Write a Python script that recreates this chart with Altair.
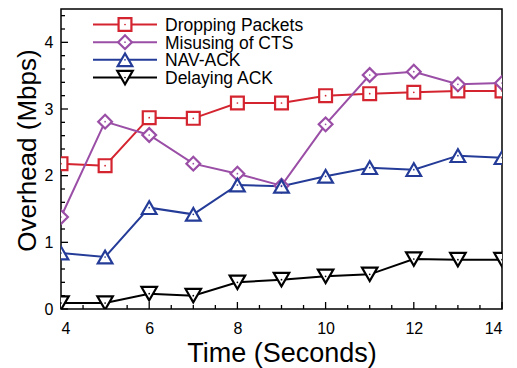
import altair as alt
import pandas as pd

time = [4, 5, 6, 7, 8, 9, 10, 11, 12, 13, 14]
dropping = [2.18, 2.15, 2.87, 2.86, 3.09, 3.09, 3.20, 3.23, 3.25, 3.27, 3.27]
misusing = [1.38, 2.81, 2.61, 2.18, 2.03, 1.85, 2.77, 3.51, 3.56, 3.37, 3.39]
navack = [0.84, 0.78, 1.52, 1.42, 1.86, 1.84, 1.99, 2.12, 2.09, 2.30, 2.27]
delaying = [0.09, 0.09, 0.23, 0.20, 0.40, 0.44, 0.49, 0.52, 0.75, 0.74, 0.74]

series_names = ["Dropping Packets", "Misusing of CTS", "NAV-ACK", "Delaying ACK"]
colors = ["#d42430", "#9a4ea6", "#243c98", "#000000"]
shapes = ["square", "diamond", "triangle-up", "triangle-down"]
marker_sizes = [165, 240, 280, 240]

x_major = [4, 6, 8, 10, 12, 14]
x_minor = [4.5, 5, 5.5, 6.5, 7, 7.5, 8.5, 9, 9.5, 10.5, 11, 11.5, 12.5, 13, 13.5]
y_major = [0, 1, 2, 3, 4]
y_minor = [0.2, 0.4, 0.6, 0.8, 1.2, 1.4, 1.6, 1.8, 2.2, 2.4, 2.6, 2.8,
           3.2, 3.4, 3.6, 3.8, 4.2, 4.4]

W, H = 441, 300
FONT = "Liberation Sans"

rows = []
for name, vals in zip(series_names, [dropping, misusing, navack, delaying]):
    for t, v in zip(time, vals):
        rows.append({"time": t, "value": v, "series": name})
df = pd.DataFrame(rows)
leg_df = pd.DataFrame({"series": series_names})

xs = alt.Scale(domain=[4, 14], nice=False)
ys = alt.Scale(domain=[0, 4.5], nice=False)
cs = alt.Scale(domain=series_names, range=colors)
ss = alt.Scale(domain=series_names, range=shapes)
zs = alt.Scale(domain=series_names, range=marker_sizes)

X = alt.X("time:Q", scale=xs,
          axis=alt.Axis(values=x_major, format="d", tickSize=0, labelPadding=11,
                        title="Time (Seconds)", titlePadding=4, titleFontSize=27,
                        grid=False, domain=False))
Y = alt.Y("value:Q", scale=ys,
          axis=alt.Axis(values=y_major, format="d", tickSize=0, labelPadding=8,
                        title="Overhead (Mbps)", titlePadding=4, titleFontSize=26,
                        titleY=141, grid=False, domain=False))
COLOR = alt.Color("series:N", scale=cs, legend=None)
SHAPE = alt.Shape("series:N", scale=ss, legend=None)
SIZE = alt.Size("series:N", scale=zs, legend=None)

base = alt.Chart(df)

lines = base.mark_line(strokeWidth=2, clip=True).encode(
    x=X, y=Y, color=COLOR, detail="series:N")

points = base.mark_point(filled=False, fill="white", strokeWidth=2.2,
                         opacity=1, clip=True).encode(
    x=X, y=Y, color=COLOR, shape=SHAPE, size=SIZE)

dots = base.mark_circle(size=3, opacity=1, clip=True).encode(x=X, y=Y, color=COLOR)

# legend (inside, top-left), rows placed by an ordinal point scale
LY = alt.Y("series:N", scale=alt.Scale(type="point", domain=series_names,
                                       range=[15.5, 68.5], padding=0), axis=None)
lbase = alt.Chart(leg_df)
leg_lines = lbase.mark_rule(strokeWidth=2).encode(
    x=alt.value(32), x2=alt.value(96), y=LY, color=COLOR)
leg_points = lbase.mark_point(filled=False, fill="white", strokeWidth=2.2,
                              opacity=1).encode(
    x=alt.value(64), y=LY, color=COLOR, shape=SHAPE, size=SIZE)
leg_dots = lbase.mark_circle(size=3, opacity=1).encode(x=alt.value(64), y=LY, color=COLOR)
leg_text = lbase.mark_text(align="left", baseline="alphabetic", dy=6.5, fontSize=17.5,
                           font=FONT, color="black").encode(
    x=alt.value(104), y=LY, text="series:N")

xmaj = pd.DataFrame({"v": x_major})
xmin = pd.DataFrame({"v": x_minor})
ymaj = pd.DataFrame({"v": y_major})
ymin = pd.DataFrame({"v": y_minor})

def xticks(d, length):
    return alt.Chart(d).mark_rule(color="black", strokeWidth=1.3).encode(
        x=alt.X("v:Q", scale=xs), y=alt.value(H), y2=alt.value(H - length))

def yticks(d, length):
    return alt.Chart(d).mark_rule(color="black", strokeWidth=1.3).encode(
        y=alt.Y("v:Q", scale=ys), x=alt.value(0), x2=alt.value(length))

main = alt.layer(
    xticks(xmaj, 7), xticks(xmin, 4), yticks(ymaj, 7), yticks(ymin, 4),
    lines, points, dots,
)
legend = alt.layer(leg_lines, leg_points, leg_dots, leg_text)

chart = alt.layer(main, legend).resolve_scale(y="independent").properties(
    width=W, height=H,
    background="white",
    autosize=alt.AutoSizeParams(type="none"),
    padding={"left": 61, "top": 9, "right": 15, "bottom": 59},
).configure_view(
    stroke="black", strokeWidth=1.5,
).configure_axis(
    labelFont=FONT, labelFontSize=16, labelColor="black",
    titleFont=FONT, titleColor="black", titleFontWeight="normal",
)

chart.save("out.html", embed_options={"renderer": "svg", "actions": False})
